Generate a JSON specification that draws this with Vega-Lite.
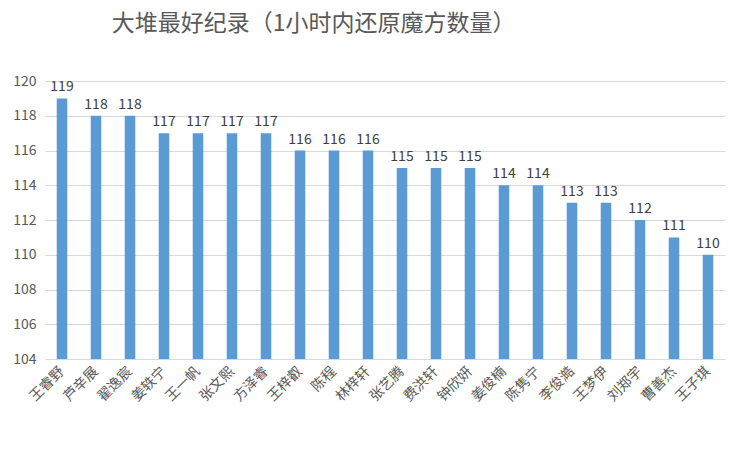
{
  "$schema": "https://vega.github.io/schema/vega-lite/v6.json",
  "autosize": {"type": "none"},
  "width": 680,
  "height": 278,
  "padding": {"left": 45, "top": 81, "right": 25, "bottom": 90},
  "background": "white",
  "title": {
    "text": "大堆最好纪录（1小时内还原魔方数量）",
    "anchor": "start",
    "dx": 99,
    "offset": 38,
    "font": "Noto Sans CJK SC",
    "fontSize": 23,
    "fontWeight": "normal",
    "color": "#595959"
  },
  "data": {
    "values": [
      {"name": "王睿野", "value": 119},
      {"name": "芦辛展", "value": 118},
      {"name": "翟逸宸", "value": 118},
      {"name": "姜轶宁", "value": 117},
      {"name": "王一帆", "value": 117},
      {"name": "张文熙", "value": 117},
      {"name": "方泽睿", "value": 117},
      {"name": "王梓叡", "value": 116},
      {"name": "陈程", "value": 116},
      {"name": "林梓轩", "value": 116},
      {"name": "张艺腾", "value": 115},
      {"name": "费洪轩", "value": 115},
      {"name": "钟欣妍", "value": 115},
      {"name": "姜俊楠", "value": 114},
      {"name": "陈隽宁", "value": 114},
      {"name": "李俊澔", "value": 113},
      {"name": "王梦伊", "value": 113},
      {"name": "刘郑宇", "value": 112},
      {"name": "曹善杰", "value": 111},
      {"name": "王子琪", "value": 110}
    ]
  },
  "encoding": {
    "x": {
      "field": "name",
      "type": "nominal",
      "sort": null,
      "scale": {"paddingInner": 0.69, "paddingOuter": 0.345},
      "axis": {
        "title": null,
        "labelAngle": -45,
        "labelAlign": "right",
        "labelBaseline": "middle",
        "labelPadding": 10,
        "labelFont": "Noto Sans CJK SC",
        "labelFontSize": 14,
        "labelColor": "#595959",
        "ticks": false,
        "domainColor": "#D9D9D9",
        "domainWidth": 1,
        "grid": false
      }
    },
    "y": {
      "field": "value",
      "type": "quantitative",
      "scale": {"domain": [104, 120], "zero": false, "nice": false},
      "axis": {
        "title": null,
        "values": [104, 106, 108, 110, 112, 114, 116, 118, 120],
        "domain": false,
        "ticks": false,
        "labelPadding": 9,
        "labelFont": "Noto Sans CJK SC",
        "labelFontSize": 14,
        "labelColor": "#595959",
        "gridColor": "#D9D9D9",
        "gridWidth": 1
      }
    }
  },
  "layer": [
    {
      "mark": {"type": "bar", "color": "#5B9BD5"},
      "encoding": {"y2": {"datum": 104}}
    },
    {
      "mark": {
        "type": "text",
        "dy": -11,
        "font": "Noto Sans CJK SC",
        "fontSize": 14,
        "color": "#404040"
      },
      "encoding": {"text": {"field": "value", "type": "quantitative"}}
    }
  ],
  "config": {"view": {"stroke": null}}
}
